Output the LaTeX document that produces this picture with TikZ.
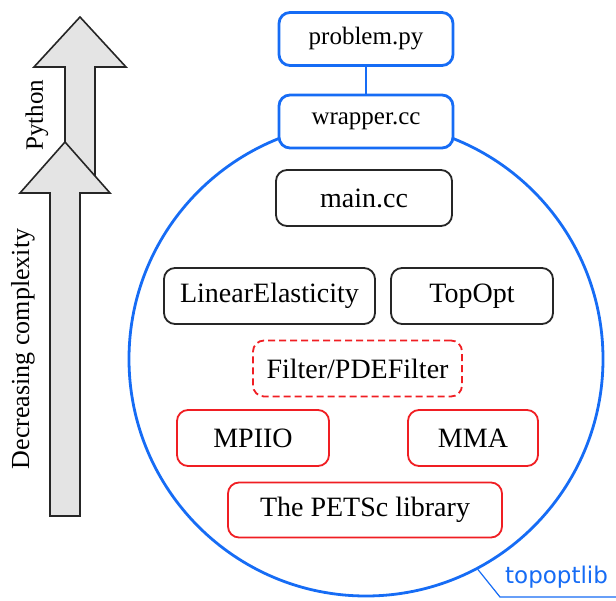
\documentclass[tikz,border=0pt]{standalone}
\usepackage{fontspec}
\setmainfont{Liberation Serif}
\newfontfamily\labelsans{DejaVu Sans}
\definecolor{libblue}{RGB}{22,108,245}
\definecolor{libred}{RGB}{240,30,35}
\definecolor{arrowgray}{RGB}{228,228,228}
\tikzset{
  box/.style={draw, rounded corners=11pt, line width=1.8pt, fill=white,
    inner sep=0pt, minimum height=56pt, font=\fontsize{28}{32}\selectfont},
  pybox/.style={box, draw=libblue, line width=2.8pt, minimum height=53pt,
    font=\fontsize{25}{30}\selectfont},
  corebox/.style={box, draw=black!85},
  extbox/.style={box, draw=libred},
  optbox/.style={extbox, dash pattern=on 7pt off 4pt},
  bigarrow/.style={draw=black!85, line width=1.6pt, fill=arrowgray, line join=miter},
  sidelabel/.style={rotate=90, inner sep=0pt},
}
\begin{document}
\begin{tikzpicture}[x=1pt, y=-1pt]
\useasboundingbox (0,0) rectangle (616,601);

% complexity arrows (upper one first, lower one overlaps it)
\draw[bigarrow] (65,190) -- (65,67) -- (34,67) -- (80,17) -- (126,67) -- (95,67) -- (95,190) -- cycle;
\draw[bigarrow] (50,516) -- (50,193) -- (20,193) -- (65,142) -- (110,193) -- (80,193) -- (80,516) -- cycle;
\node[sidelabel, font=\fontsize{25}{30}\selectfont] (py) at (37,115) {Python};
\node[sidelabel, font=\fontsize{26}{31}\selectfont] (dc) at (23,349) {Decreasing complexity};

% library boundary
\node[draw=libblue, line width=2.8pt, circle, minimum size=474pt, inner sep=0pt] (lib) at (366,359) {};
\coordinate (bend) at (500,597);
\coordinate (tail) at (620,597);
\draw[libblue, line width=1.2pt] (lib.-62) -- (bend) -- (tail);
\node[anchor=base west, inner sep=0pt, text=libblue, font=\labelsans\fontsize{23}{28}\selectfont] (tl) at (505,583) {topoptlib};

% python interface
\node[pybox, minimum width=174pt] (prob) at (366,39) {problem.py};
\node[pybox, minimum width=174pt] (wrap) at (366,121.5) {wrapper.cc};
\draw[libblue, line width=2.2pt] (prob) -- (wrap);

% core classes
\node[corebox, minimum width=176pt] (main) at (364,198) {main.cc};
\node[corebox, minimum width=211pt] (lin) at (269.5,296) {LinearElasticity};
\node[corebox, minimum width=162pt] (top) at (472,296) {TopOpt};

% optional and external components
\node[optbox, minimum width=209pt] (filt) at (357.5,368.5) {Filter/PDEFilter};
\node[extbox, minimum width=152pt] (mpi) at (253,438) {MPIIO};
\node[extbox, minimum width=130pt] (mma) at (473,438) {MMA};
\node[extbox, minimum width=274pt, minimum height=55pt] (pets) at (365,510) {The PETSc library};
\end{tikzpicture}
\end{document}
